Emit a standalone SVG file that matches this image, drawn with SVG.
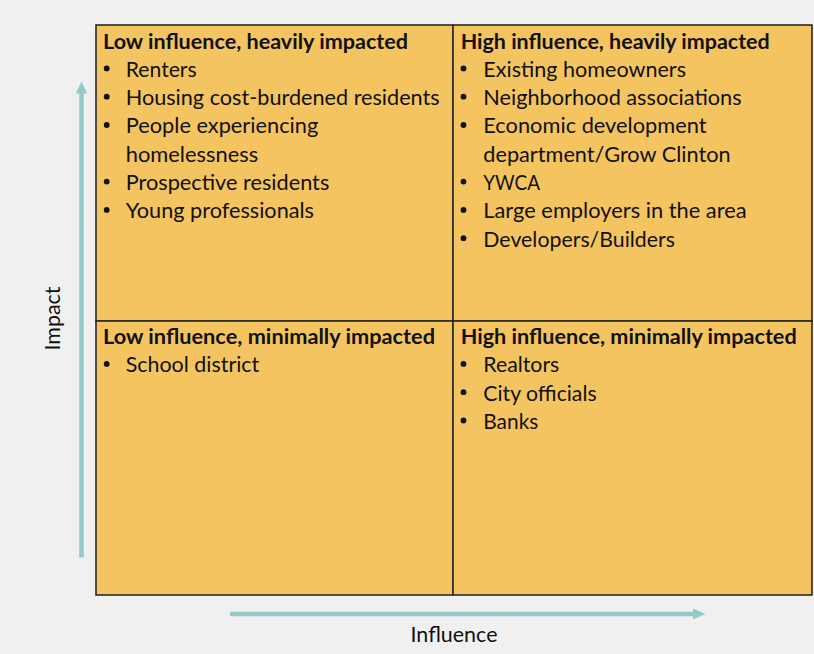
<svg xmlns="http://www.w3.org/2000/svg" width="814" height="654" viewBox="0 0 814 654">
<style>
.bg{fill:#f0f0f0}
.q{fill:#f4c461;stroke:#2a2a2a;stroke-width:1.6}
.h{font-family:Lato,"Open Sans","Liberation Sans",sans-serif;font-size:20.5px;font-weight:bold;fill:#111}
.t{font-family:Lato,"Open Sans","Liberation Sans",sans-serif;font-size:20.5px;fill:#111}
.ax{font-family:Lato,"Open Sans","Liberation Sans",sans-serif;font-size:20.5px;fill:#111}
.b{fill:#111}
.arr{stroke:#93c9c8;stroke-width:4.5;fill:none}
.ah{fill:#93c9c8}
</style>
<rect class="bg" x="0" y="0" width="814" height="654"/>

<g id="q-low-heavy">
<rect class="q" x="96" y="25" width="357" height="296"/>
<text class="h" x="103" y="48.5" textLength="305" lengthAdjust="spacingAndGlyphs">Low influence, heavily impacted</text>
<circle class="b" cx="106.7" cy="68.4" r="2.9"/>
<text class="t" x="125.7" y="76.8" textLength="71" lengthAdjust="spacingAndGlyphs">Renters</text>
<circle class="b" cx="106.7" cy="96.7" r="2.9"/>
<text class="t" x="125.7" y="105.1" textLength="314" lengthAdjust="spacingAndGlyphs">Housing cost-burdened residents</text>
<circle class="b" cx="106.7" cy="125" r="2.9"/>
<text class="t" x="125.7" y="133.4" textLength="192.6" lengthAdjust="spacingAndGlyphs">People experiencing</text>
<text class="t" x="125.7" y="161.7" textLength="132.6" lengthAdjust="spacingAndGlyphs">homelessness</text>
<circle class="b" cx="106.7" cy="181.6" r="2.9"/>
<text class="t" x="125.7" y="190" textLength="203.6" lengthAdjust="spacingAndGlyphs">Prospective residents</text>
<circle class="b" cx="106.7" cy="209.9" r="2.9"/>
<text class="t" x="125.7" y="218.3" textLength="188.3" lengthAdjust="spacingAndGlyphs">Young professionals</text>
</g>

<g id="q-high-heavy">
<rect class="q" x="453" y="25" width="359" height="296"/>
<text class="h" x="460.7" y="48.5" textLength="309" lengthAdjust="spacingAndGlyphs">High influence, heavily impacted</text>
<circle class="b" cx="463.5" cy="68.4" r="2.9"/>
<text class="t" x="483.3" y="76.8" textLength="202.7" lengthAdjust="spacingAndGlyphs">Existing homeowners</text>
<circle class="b" cx="463.5" cy="96.7" r="2.9"/>
<text class="t" x="483.3" y="105.1" textLength="258.3" lengthAdjust="spacingAndGlyphs">Neighborhood associations</text>
<circle class="b" cx="463.5" cy="125" r="2.9"/>
<text class="t" x="483.3" y="133.4" textLength="223.3" lengthAdjust="spacingAndGlyphs">Economic development</text>
<text class="t" x="483.3" y="161.7" textLength="247.3" lengthAdjust="spacingAndGlyphs">department/Grow Clinton</text>
<circle class="b" cx="463.5" cy="181.6" r="2.9"/>
<text class="t" x="483.3" y="190" textLength="56.7" lengthAdjust="spacingAndGlyphs">YWCA</text>
<circle class="b" cx="463.5" cy="209.9" r="2.9"/>
<text class="t" x="483.3" y="218.3" textLength="263.3" lengthAdjust="spacingAndGlyphs">Large employers in the area</text>
<circle class="b" cx="463.5" cy="238.2" r="2.9"/>
<text class="t" x="483.3" y="246.6" textLength="191.7" lengthAdjust="spacingAndGlyphs">Developers/Builders</text>
</g>

<g id="q-low-minimal">
<rect class="q" x="96" y="321" width="357" height="274"/>
<text class="h" x="103" y="344" textLength="332" lengthAdjust="spacingAndGlyphs">Low influence, minimally impacted</text>
<circle class="b" cx="106.7" cy="363.9" r="2.9"/>
<text class="t" x="125.7" y="372.3" textLength="133.6" lengthAdjust="spacingAndGlyphs">School district</text>
</g>

<g id="q-high-minimal">
<rect class="q" x="453" y="321" width="359" height="274"/>
<text class="h" x="460.7" y="344" textLength="336" lengthAdjust="spacingAndGlyphs">High influence, minimally impacted</text>
<circle class="b" cx="463.5" cy="363.9" r="2.9"/>
<text class="t" x="483.3" y="372.3" textLength="76" lengthAdjust="spacingAndGlyphs">Realtors</text>
<circle class="b" cx="463.5" cy="392.2" r="2.9"/>
<text class="t" x="483.3" y="400.6" textLength="113.3" lengthAdjust="spacingAndGlyphs">City officials</text>
<circle class="b" cx="463.5" cy="420.5" r="2.9"/>
<text class="t" x="483.3" y="428.9" textLength="55" lengthAdjust="spacingAndGlyphs">Banks</text>
</g>

<g id="connectors">
<line class="arr" x1="81.5" y1="557.5" x2="81.5" y2="92"/>
<polygon class="ah" points="81.5,81.5 87.3,93.5 75.7,93.5"/>
<line class="arr" x1="230" y1="614" x2="694" y2="614"/>
<polygon class="ah" points="705.5,614 693,608.5 693,619.5"/>
</g>

<g id="axis-labels">
<text class="ax" x="0" y="0" text-anchor="middle" textLength="64" lengthAdjust="spacingAndGlyphs" transform="translate(59.5,318.5) rotate(-90)">Impact</text>
<text class="ax" x="454" y="641.5" text-anchor="middle" textLength="87" lengthAdjust="spacingAndGlyphs">Influence</text>
</g>
</svg>
